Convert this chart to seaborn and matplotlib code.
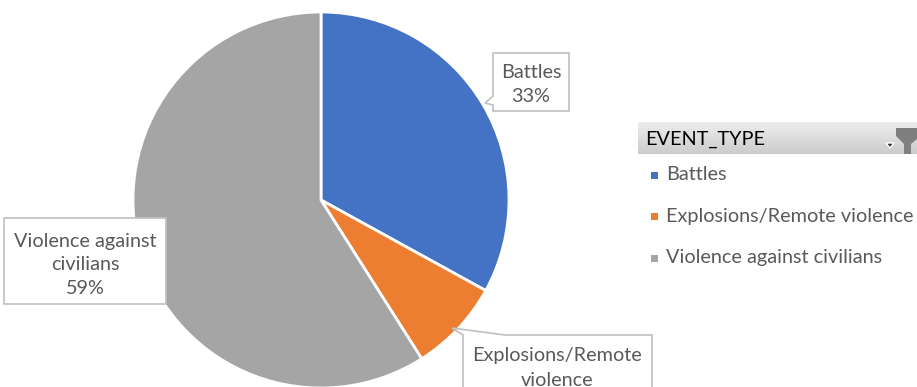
import matplotlib
matplotlib.use("Agg")
import matplotlib.pyplot as plt
from matplotlib.patches import Polygon, Rectangle
import seaborn as sns
import numpy as np

# Share of events by type
categories = ["Battles", "Explosions/Remote violence", "Violence against civilians"]
shares = [33, 8, 59]
label_lines = ["Battles", "Explosions/Remote\nviolence", "Violence against\ncivilians"]
legend_title = "EVENT_TYPE"

sns.set_style("white")
plt.rcParams["font.family"] = ["Lato", "DejaVu Sans"]

colors = sns.color_palette(["#4472C4", "#ED7D31", "#A5A5A5"])
text_gray = "#595959"
box_edge = "#BFBFBF"

W, H = 917, 387
fig = plt.figure(figsize=(W / 100, H / 100), dpi=100)

# Pie axes (pixel box: center 321,200, radius 188)
cx, cy, r = 321, 200, 188
ax = fig.add_axes([(cx - r) / W, (H - cy - r) / H, 2 * r / W, 2 * r / H])
ax.pie(shares, colors=colors, startangle=90, counterclock=False,
       wedgeprops=dict(edgecolor="white", linewidth=2))
ax.set_xlim(-1, 1)
ax.set_ylim(-1, 1)
ax.axis("off")

# Overlay in pixel coordinates for callouts and legend
ov = fig.add_axes([0, 0, 1, 1], zorder=5)
ov.set_xlim(0, W)
ov.set_ylim(H, 0)
ov.axis("off")
ov.patch.set_alpha(0)

fs = 14.3

def callout(pts, text, tx, ty):
    ov.add_patch(Polygon(pts, closed=True, facecolor="white", edgecolor=box_edge, lw=1.2))
    ov.text(tx, ty, text, ha="center", va="center", color=text_gray,
            fontsize=fs, linespacing=1.5)

# Battles
callout([(493, 53), (569, 53), (569, 111), (493, 111), (493, 105), (485, 103), (493, 96)],
        f"{label_lines[0]}\n{shares[0]}%", 531, 85)
# Violence against civilians
callout([(4, 218), (166, 218), (166, 304), (4, 304)],
        f"{label_lines[2]}\n{shares[2]}%", 85, 265)
# Explosions / Remote violence (percentage falls below the canvas)
callout([(463, 400), (463, 335), (452, 328), (505, 335), (652, 335), (652, 400)],
        f"{label_lines[1]}\n{shares[1]}%", 557, 380)

# Legend header with gradient bar
grad = np.linspace(0.93, 0.80, 32).reshape(-1, 1)
ov.imshow(np.dstack([grad, grad, grad]), extent=(638, W, 154, 122), aspect="auto", zorder=1)
ov.text(645, 139, legend_title, ha="left", va="center", color="black", fontsize=fs, zorder=2)
# Filter funnel icon and dropdown arrow
ov.add_patch(Polygon([(896, 128), (917, 128), (917, 139), (911, 144), (911, 154), (904, 154),
                      (904, 144), (896, 136)], closed=True, facecolor="#7F7F7F", edgecolor="none", zorder=2))
ov.add_patch(Polygon([(886, 143), (894, 143), (890, 148)], closed=True, facecolor="#303030", zorder=2))

for i, (cat, col) in enumerate(zip(categories, colors)):
    y = 175 + i * 41.5
    ov.add_patch(Rectangle((651, y - 3.5), 7, 7, facecolor=col, edgecolor="none"))
    ov.text(666, y, cat, ha="left", va="center", color=text_gray, fontsize=fs)

ov.set_xlim(0, W)
ov.set_ylim(H, 0)
fig.savefig("out.png", dpi=100)
